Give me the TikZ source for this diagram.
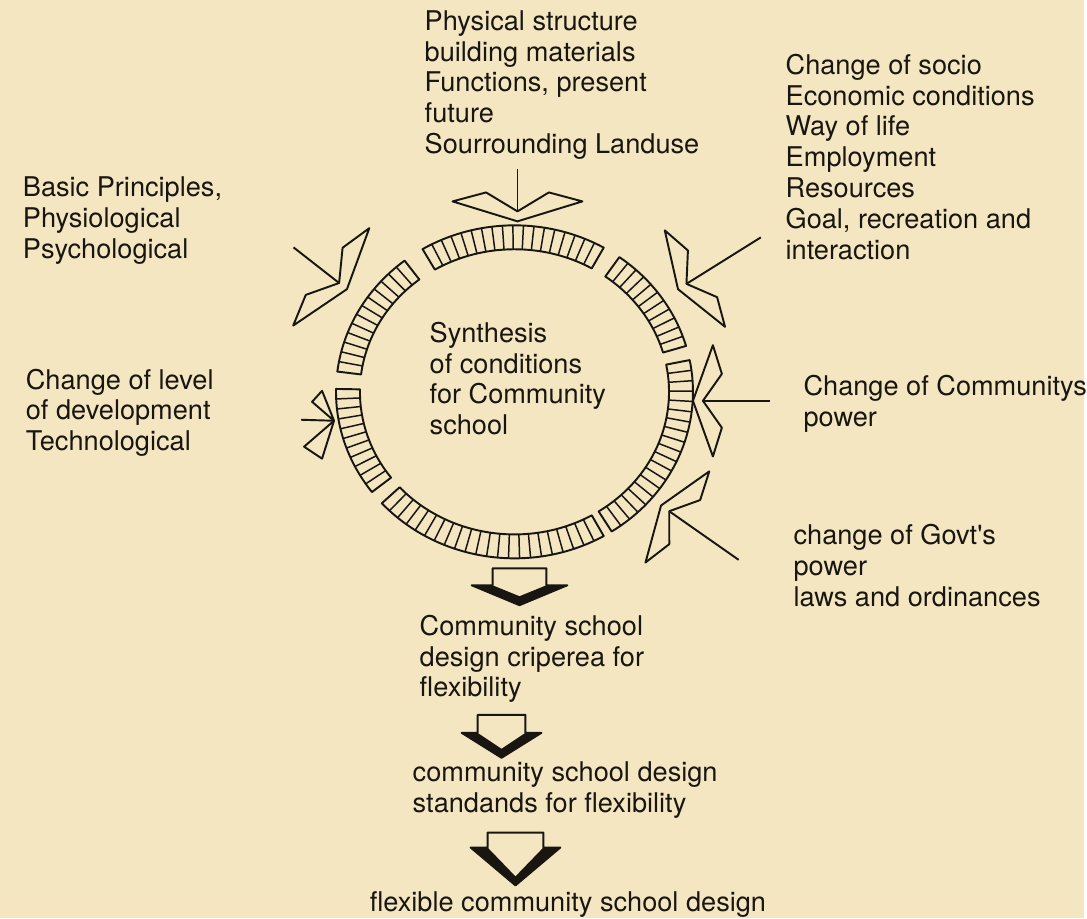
\documentclass[tikz,border=0pt]{standalone}
\usepackage{fontspec}
\setmainfont{TeX Gyre Heros}
\usepackage{xcolor}
\usepackage{tikz}
\definecolor{paper}{RGB}{243,230,193}
\definecolor{ink}{RGB}{25,22,18}

\newcommand{\wingarrow}[5]{%
\begin{scope}[shift={(#1,#2)},rotate=#3,yscale=#5]
\draw (-#4,0) -- (-10,0);
\draw (0,0) -- (-20,62) -- (-29,30) -- (-10,0) -- (-29,-30) -- (-20,-62) -- cycle;
\end{scope}}

\newcommand{\ringpart}[3]{%
\draw ([shift={(516,528)}]#1:179 and 167) arc[start angle=#1,end angle=#2,x radius=179,y radius=167]
  -- ([shift={(516,528)}]#2:155 and 143) arc[start angle=#2,end angle=#1,x radius=155,y radius=143] -- cycle;
\foreach \k [evaluate=\k as \t using #1+\k*(#2-#1)/(#3+1)] in {1,...,#3}
  \draw[line width=0.85pt] ([shift={(516,528)}]\t:155 and 143) -- ([shift={(516,528)}]\t:179 and 167);}

\newcommand{\blockdown}[6]{%
\fill[ink] (#1-#4,#2-#5) -- (#1,#2-#6) -- (#1+#4,#2-#5) -- (#1+#3,#2-#5) -- (#1,#2-#6+9) -- (#1-#3,#2-#5) -- cycle;
\draw (#1-#3,#2) -- (#1+#3,#2) -- (#1+#3,#2-#5) -- (#1+#4,#2-#5) -- (#1,#2-#6) -- (#1-#4,#2-#5) -- (#1-#3,#2-#5) -- cycle;}

\begin{document}
\begin{tikzpicture}[x=0.02cm,y=0.02cm,line join=round,line width=1.1pt,draw=ink,
  lab/.style={anchor=base west,align=left,inner sep=0pt,text=ink,font=\fontsize{15.5pt}{17.6pt}\selectfont}]
\fill[paper] (0,0) rectangle (1087,921);

\node[lab] (phys) at (425,767) {Physical structure\\building materials\\Functions, present\\future\\Sourrounding Landuse};
\node[lab] (socio) at (787,661) {Change of socio\\Economic conditions\\Way of life\\Employment\\Resources\\Goal, recreation and\\interaction};
\node[lab] (basic) at (22,662) {Basic Principles,\\Physiological\\Psychological};
\node[lab] (level) at (25,469) {Change of level\\of development\\Technological};
\node[lab] (synth) at (430,485) {Synthesis\\of conditions\\for Community\\school};
\node[lab] (power) at (805,493) {Change of Communitys\\power};
\node[lab] (govt) at (795,313) {change of Govt\textquotesingle s\\power\\laws and ordinances};
\node[lab] (criteria) at (420,222) {Community school\\design criperea for\\flexibility};
\node[lab] (standards) at (413,106) {community school design\\standands for flexibility};
\node[lab] (design) at (370,7) {flexible community school design};

\ringpart{60}{121}{17}
\ringpart{128}{173}{12}
\ringpart{179}{217}{10}
\ringpart{222}{300}{21}
\ringpart{303}{371}{18}
\ringpart{16}{54}{10}

\wingarrow{519}{699}{-90}{52}{1.05}
\wingarrow{348}{631}{-38}{68}{1}
\wingarrow{680}{631}{212}{98}{0.92}
\wingarrow{695}{519}{180}{77}{0.9}
\wingarrow{663}{414}{145}{95}{0.9}
\draw (302,500) -- (335,499);
\draw (335,499) -- (323,529) -- (313,518) -- cycle;
\draw (335,499) -- (305,473) -- (323,461) -- cycle;

\blockdown{521}{351}{27}{48}{17}{37}
\blockdown{503}{204}{24}{40}{18}{43}
\blockdown{517}{86}{28}{45}{15}{53}
\end{tikzpicture}
\end{document}
